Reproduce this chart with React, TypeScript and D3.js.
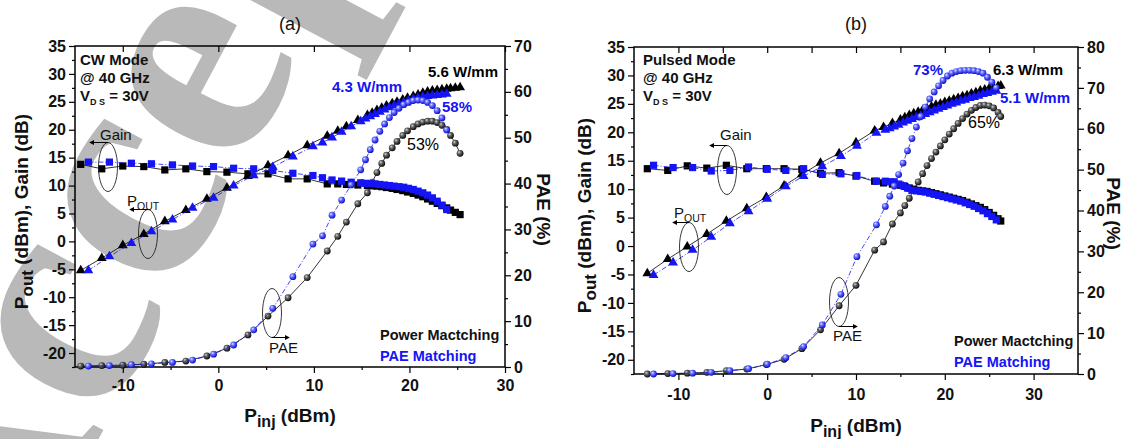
import React, { useEffect, useRef } from 'react';
import * as d3 from 'd3';

const FONT = 'Liberation Sans, Arial, sans-serif';
const BLACK = '#000000';
const BLUE = '#1414f5';

// shared left axis (Pout / Gain) ticks
const poutTicks = [-20, -15, -10, -5, 0, 5, 10, 15, 20, 25, 30, 35];
const poutMinor = [-22.5, -17.5, -12.5, -7.5, -2.5, 2.5, 7.5, 12.5, 17.5, 22.5, 27.5, 32.5];

// (a) CW mode
const xTicksA = [-10, 0, 10, 20, 30];
const xMinorA = [-5, 5, 15, 25];
const paeTicksA = [0, 10, 20, 30, 40, 50, 60, 70];
const paeMinorA = [5, 15, 25, 35, 45, 55, 65];

// (a) power matching (black)
const aPowX = [-14.4, -12.2, -10.0, -7.8, -5.6, -3.4, -1.2, 0.9, 3.1, 5.2, 7.3, 9.3, 11.4, 12.5, 13.4, 14.6, 15.6, 16.1, 16.6, 17.1, 17.6, 18.2, 18.7, 19.3, 19.8, 20.4, 20.9, 21.4, 21.9, 22.4, 22.9, 23.4, 23.9, 24.3, 24.8, 25.3];
const aPowGain = [13.8, 13.0, 13.5, 13.4, 12.8, 13.0, 12.5, 12.4, 12.1, 12.1, 11.2, 11.2, 10.3, 10.3, 10.2, 10.1, 10.0, 9.95, 9.9, 9.8, 9.65, 9.5, 9.3, 9.1, 8.85, 8.6, 8.3, 8.0, 7.6, 7.2, 6.8, 6.4, 6.0, 5.6, 5.2, 4.8];
const aPowPout = [-5.2, -3.0, -0.7, 1.3, 3.6, 5.6, 7.6, 9.6, 11.7, 13.6, 15.4, 17.2, 18.9, 19.8, 20.6, 21.7, 22.6, 23.0, 23.5, 23.9, 24.3, 24.7, 25.0, 25.4, 25.7, 26.0, 26.3, 26.6, 26.8, 27.0, 27.1, 27.2, 27.3, 27.4, 27.5, 27.6];
const aPowPae = [0.2, 0.3, 0.4, 0.6, 1.0, 1.3, 2.4, 4.1, 7.0, 11.1, 15.1, 19.5, 25.3, 28.5, 31.6, 35.6, 38.0, 40.3, 42.4, 44.4, 46.2, 47.8, 49.2, 50.5, 51.5, 52.4, 53.0, 53.4, 53.6, 53.6, 53.3, 52.7, 51.8, 50.5, 48.8, 46.6];

// (a) PAE matching (blue)
const aPaeX = [-13.6, -11.4, -9.1, -7.0, -4.8, -2.7, -0.5, 1.6, 3.7, 5.7, 7.8, 9.9, 10.9, 11.9, 12.9, 13.9, 14.9, 15.4, 15.9, 16.4, 16.9, 17.4, 17.9, 18.4, 18.9, 19.4, 19.9, 20.4, 20.9, 21.4, 21.9, 22.4, 22.9, 23.4, 23.9];
const aPaeGain = [14.2, 14.2, 14.0, 13.9, 13.7, 13.5, 13.4, 13.1, 13.0, 12.7, 12.2, 11.8, 11.4, 11.0, 10.8, 10.6, 10.5, 10.4, 10.35, 10.3, 10.2, 10.1, 10.0, 9.9, 9.8, 9.7, 9.5, 9.3, 9.0, 8.7, 8.3, 7.8, 7.2, 6.5, 5.7];
const aPaePout = [-5.2, -2.7, -0.3, 1.8, 3.9, 6.0, 7.8, 10.0, 11.8, 13.3, 15.2, 17.0, 17.7, 18.6, 19.6, 20.6, 21.5, 22.0, 22.4, 22.8, 23.2, 23.6, 24.0, 24.3, 24.6, 24.9, 25.2, 25.5, 25.7, 25.9, 26.0, 26.1, 26.2, 26.3, 26.4];
const aPaePae = [0.2, 0.3, 0.5, 0.7, 1.0, 1.5, 2.8, 4.8, 8.1, 12.8, 19.7, 26.8, 28.6, 33.1, 36.4, 39.7, 43.0, 45.2, 47.4, 49.5, 51.4, 53.0, 54.4, 55.5, 56.4, 57.2, 57.7, 58.1, 58.2, 58.1, 57.7, 57.0, 55.9, 54.3, 51.7];

// (b) pulsed mode
const xTicksB = [-10, 0, 10, 20, 30];
const xMinorB = [-5, 5, 15, 25];
const paeTicksB = [0, 10, 20, 30, 40, 50, 60, 70, 80];
const paeMinorB = [5, 15, 25, 35, 45, 55, 65, 75];

// (b) power matching (black)
const bPowX = [-13.5, -11.2, -9.0, -6.8, -4.6, -2.3, -0.1, 1.9, 3.9, 6.0, 8.1, 10.0, 12.1, 13.1, 14.1, 15.0, 15.5, 16.0, 16.5, 17.0, 17.5, 18.0, 18.5, 19.0, 19.5, 20.0, 20.5, 21.0, 21.5, 22.0, 22.5, 23.0, 23.5, 24.0, 24.5, 25.0, 25.5, 26.0, 26.3];
const bPowGain = [13.6, 13.3, 14.1, 13.7, 14.2, 13.6, 13.6, 13.6, 13.5, 12.8, 12.9, 12.3, 11.4, 11.1, 10.9, 10.7, 10.5, 10.2, 10.0, 9.8, 9.7, 9.6, 9.4, 9.2, 9.0, 8.8, 8.6, 8.4, 8.2, 8.0, 7.7, 7.4, 7.1, 6.8, 6.4, 5.9, 5.4, 4.8, 4.4];
const bPowPout = [-4.8, -2.3, -0.1, 2.1, 4.4, 6.6, 8.6, 10.6, 12.6, 14.6, 16.3, 18.2, 20.3, 20.9, 21.6, 22.2, 22.6, 23.0, 23.3, 23.6, 23.9, 24.2, 24.5, 24.8, 25.0, 25.3, 25.5, 25.8, 26.0, 26.3, 26.5, 26.8, 27.0, 27.3, 27.5, 27.7, 27.9, 28.1, 28.2];
const bPowPae = [0.0, 0.1, 0.2, 0.4, 0.8, 1.2, 2.3, 3.6, 6.2, 10.8, 16.7, 21.7, 30.3, 32.3, 36.7, 39.4, 41.2, 43.0, 45.0, 47.0, 49.0, 51.0, 52.7, 54.3, 55.8, 57.3, 58.7, 60.0, 61.3, 62.5, 63.6, 64.5, 65.2, 65.7, 65.8, 65.6, 65.1, 64.0, 63.0];

// (b) PAE matching (blue)
const bPaeX = [-12.8, -10.6, -8.4, -6.3, -4.2, -2.1, 0.0, 2.1, 4.1, 6.2, 8.3, 10.1, 12.3, 13.3, 13.8, 14.3, 14.8, 15.3, 15.8, 16.3, 16.8, 17.3, 17.8, 18.3, 18.8, 19.3, 19.8, 20.3, 20.8, 21.3, 21.8, 22.3, 22.8, 23.3, 23.8, 24.3, 24.8, 25.3, 25.8];
const bPaeGain = [14.2, 13.8, 13.8, 13.2, 13.3, 13.9, 13.5, 13.3, 13.6, 12.6, 12.7, 12.4, 11.4, 11.4, 11.3, 11.3, 10.9, 10.6, 10.2, 9.8, 9.7, 9.6, 9.5, 9.3, 9.1, 8.9, 8.7, 8.5, 8.3, 8.1, 7.9, 7.6, 7.3, 7.0, 6.6, 6.2, 5.7, 5.2, 4.6];
const bPaePout = [-5.1, -2.9, -0.7, 1.6, 4.0, 6.1, 8.3, 10.5, 12.3, 14.0, 15.8, 17.6, 19.9, 20.4, 20.7, 21.0, 21.3, 21.7, 22.0, 22.3, 22.6, 22.9, 23.2, 23.5, 23.8, 24.1, 24.4, 24.7, 25.0, 25.2, 25.5, 25.7, 26.0, 26.2, 26.4, 26.7, 26.9, 27.1, 27.3];
const bPaePae = [0.0, 0.1, 0.2, 0.4, 0.8, 1.3, 2.4, 4.0, 6.7, 12.0, 19.5, 28.7, 36.5, 41.0, 43.5, 46.0, 48.8, 51.6, 54.6, 57.6, 60.4, 63.0, 65.3, 67.3, 69.0, 70.5, 71.8, 72.9, 73.6, 74.0, 74.2, 74.3, 74.3, 74.2, 74.0, 73.6, 72.6, 71.4, 70.0];

const panels = [
  {
    title: '(a)', left: 75, right: 505, top: 46, bottom: 367,
    xDomain: [-15, 30], paeMax: 70, xTicks: xTicksA, xMinor: xMinorA, paeTicks: paeTicksA, paeMinor: paeMinorA,
    topMinor: false, xLabelPad: 7, xTitleY: 422, yTitleX: 28, paeTitleX: 537,
    pow: { x: aPowX, gain: aPowGain, pout: aPowPout, pae: aPowPae },
    mat: { x: aPaeX, gain: aPaeGain, pout: aPaePout, pae: aPaePae },
    mode: 'CW Mode', modeX: 80, modeY: 65,
    gainNote: { tx: 100, ty: 140, cx: 108, cy: 167, ax: 90 },
    poutNote: { tx: 127, ty: 206, cx: 148, cy: 234, ax: 130 },
    paeNote: { tx: 269, ty: 353, cx: 272, cy: 313, ax: 289 },
    legendX: 380, legendY: 340,
    labels: [
      { text: '5.6 W/mm', x: 428, y: 77, color: BLACK, anchor: 'start', weight: 'bold', size: 15 },
      { text: '4.3 W/mm', x: 332, y: 92, color: BLUE, anchor: 'start', weight: 'bold', size: 15 },
      { text: '58%', x: 442, y: 112, color: BLUE, anchor: 'start', weight: 'bold', size: 15 },
      { text: '53%', x: 407, y: 150, color: BLACK, anchor: 'start', weight: 'normal', size: 16 },
    ],
  },
  {
    title: '(b)', left: 634, right: 1078, top: 47, bottom: 374,
    xDomain: [-15, 35], paeMax: 80, xTicks: xTicksB, xMinor: xMinorB, paeTicks: paeTicksB, paeMinor: paeMinorB,
    topMinor: true, xLabelPad: 9, xTitleY: 432, yTitleX: 591, paeTitleX: 1107,
    pow: { x: bPowX, gain: bPowGain, pout: bPowPout, pae: bPowPae },
    mat: { x: bPaeX, gain: bPaeGain, pout: bPaePout, pae: bPaePae },
    mode: 'Pulsed Mode', modeX: 643, modeY: 65,
    gainNote: { tx: 720, ty: 140, cx: 727, cy: 170, ax: 710 },
    poutNote: { tx: 674, ty: 218, cx: 689, cy: 247, ax: 673 },
    paeNote: { tx: 833, ty: 341, cx: 839, cy: 302, ax: 857 },
    legendX: 954, legendY: 346,
    labels: [
      { text: '73%', x: 943, y: 75, color: BLUE, anchor: 'end', weight: 'bold', size: 15 },
      { text: '6.3 W/mm', x: 993, y: 75, color: BLACK, anchor: 'start', weight: 'bold', size: 15 },
      { text: '5.1 W/mm', x: 1000, y: 103, color: BLUE, anchor: 'start', weight: 'bold', size: 15 },
      { text: '65%', x: 968, y: 128, color: BLACK, anchor: 'start', weight: 'normal', size: 16 },
    ],
  },
];

// text with optional subscript parts: [text, isSub]
function richText(g, x, y, parts, size, subSize, weight, fill, anchor = 'start') {
  const t = g.append('text')
    .attr('x', x).attr('y', y)
    .attr('font-family', FONT).attr('font-size', size)
    .attr('font-weight', weight).attr('fill', fill)
    .attr('text-anchor', anchor);
  let shifted = false;
  parts.forEach(([s, sub]) => {
    const sp = t.append('tspan').text(s);
    if (sub && !shifted) { sp.attr('dy', size * 0.25).attr('font-size', subSize); shifted = true; }
    else if (sub) sp.attr('font-size', subSize);
    else if (shifted) { sp.attr('dy', -size * 0.25); shifted = false; }
  });
  return t;
}

function drawPanel(svg, p) {
  const x = d3.scaleLinear().domain(p.xDomain).range([p.left, p.right]);
  const y = d3.scaleLinear().domain([-22.5, 35]).range([p.bottom, p.top]);
  const y2 = d3.scaleLinear().domain([0, p.paeMax]).range([p.bottom, p.top]);
  const g = svg.append('g');

  const styleAxis = a => {
    a.select('.domain').remove();
    a.selectAll('line').attr('stroke', '#000').attr('stroke-width', 1.2);
    a.selectAll('text').attr('font-family', FONT).attr('font-size', 16)
      .attr('font-weight', 'bold').attr('fill', '#111');
  };
  const fmt = d => String(d);
  const blank = () => '';

  g.append('g').attr('transform', `translate(${p.left},0)`)
    .call(d3.axisLeft(y).tickValues(poutTicks).tickSize(6).tickPadding(3).tickFormat(fmt)).call(styleAxis);
  g.append('g').attr('transform', `translate(${p.left},0)`)
    .call(d3.axisLeft(y).tickValues(poutMinor).tickSize(3).tickFormat(blank)).call(styleAxis);
  g.append('g').attr('transform', `translate(${p.right},0)`)
    .call(d3.axisRight(y2).tickValues(p.paeTicks).tickSize(6).tickPadding(3).tickFormat(fmt)).call(styleAxis);
  g.append('g').attr('transform', `translate(${p.right},0)`)
    .call(d3.axisRight(y2).tickValues(p.paeMinor).tickSize(3).tickFormat(blank)).call(styleAxis);
  g.append('g').attr('transform', `translate(0,${p.bottom})`)
    .call(d3.axisBottom(x).tickValues(p.xTicks).tickSize(6).tickPadding(p.xLabelPad).tickFormat(fmt)).call(styleAxis);
  g.append('g').attr('transform', `translate(0,${p.bottom})`)
    .call(d3.axisBottom(x).tickValues(p.xMinor).tickSize(3).tickFormat(blank)).call(styleAxis);
  g.append('g').attr('transform', `translate(0,${p.top})`)
    .call(d3.axisBottom(x).tickValues(p.topMinor ? p.xTicks.concat(p.xMinor) : p.xTicks).tickSize(6).tickFormat(blank)).call(styleAxis);

  g.append('rect').attr('x', p.left).attr('y', p.top)
    .attr('width', p.right - p.left).attr('height', p.bottom - p.top)
    .attr('fill', 'none').attr('stroke', '#000').attr('stroke-width', 1.5);

  // series: lines then markers
  const drawSeries = (s, color, dash, ball) => {
    const idx = d3.range(s.x.length);
    const groups = [
      { vals: s.gain, sc: y, kind: 'square' },
      { vals: s.pout, sc: y, kind: 'triangle' },
      { vals: s.pae, sc: y2, kind: 'ball' },
    ];
    groups.forEach(gr => {
      const line = d3.line().x(i => x(s.x[i])).y(i => gr.sc(gr.vals[i]));
      g.append('path').attr('d', line(idx)).attr('fill', 'none')
        .attr('stroke', color).attr('stroke-width', 0.8).attr('stroke-dasharray', dash);
    });
    groups.forEach(gr => {
      const m = g.append('g');
      idx.forEach(i => {
        const cx = x(s.x[i]), cy = gr.sc(gr.vals[i]);
        if (gr.kind === 'square') {
          m.append('rect').attr('x', cx - 3.6).attr('y', cy - 3.6).attr('width', 7.2).attr('height', 7.2).attr('fill', color);
        } else if (gr.kind === 'triangle') {
          m.append('path').attr('d', d3.symbol().type(d3.symbolTriangle).size(42)()).attr('transform', `translate(${cx},${cy})`).attr('fill', color);
        } else {
          m.append('circle').attr('cx', cx).attr('cy', cy).attr('r', 3.4).attr('fill', `url(#${ball})`);
        }
      });
    });
  };
  drawSeries(p.pow, BLACK, null, 'ballBlack');
  drawSeries(p.mat, BLUE, '5,2,1,2', 'ballBlue');

  // annotations: ellipses with arrows
  const note = (n, label, sub, arrowAt) => {
    g.append('ellipse').attr('cx', n.cx).attr('cy', n.cy).attr('rx', 9.5).attr('ry', 24.5)
      .attr('fill', 'none').attr('stroke', '#222').attr('stroke-width', 0.9);
    const ay = arrowAt === 'top' ? n.cy - 24.5 : n.cy + 24.5;
    g.append('line').attr('x1', n.cx).attr('y1', ay).attr('x2', n.ax).attr('y2', ay)
      .attr('stroke', '#000').attr('stroke-width', 1).attr('marker-end', 'url(#arrowHead)');
    const parts = sub ? [[label, false], [sub, true]] : [[label, false]];
    richText(g, n.tx, n.ty, parts, 15, 10.5, 'normal', '#111');
  };
  note(p.gainNote, 'Gain', null, 'top');
  note(p.poutNote, 'P', 'OUT', 'top');
  note(p.paeNote, 'PAE', null, 'bottom');

  // mode block
  richText(g, p.modeX, p.modeY, [[p.mode, false]], 15, 10, 'bold', '#111');
  richText(g, p.modeX, p.modeY + 18, [['@ 40 GHz', false]], 15, 10, 'bold', '#111');
  richText(g, p.modeX, p.modeY + 36, [['V', false], ['D S', true], [' = 30V', false]], 15, 9, 'bold', '#111');

  // legend
  richText(g, p.legendX, p.legendY, [['Power Mactching', false]], 14.5, 10, 'bold', '#111');
  richText(g, p.legendX, p.legendY + 21, [['PAE Matching', false]], 14.5, 10, 'bold', BLUE);

  p.labels.forEach(l => {
    richText(g, l.x, l.y, [[l.text, false]], l.size, 10, l.weight, l.color, l.anchor);
  });

  // titles
  const xMid = (p.left + p.right) / 2;
  richText(g, xMid, 30, [[p.title, false]], 18, 12, 'normal', '#111', 'middle');
  richText(g, xMid, p.xTitleY, [['P', false], ['inj', true], [' (dBm)', false]], 19, 16, 'bold', '#111', 'middle');
  const yMid = (p.top + p.bottom) / 2;
  richText(g, 0, 0, [['P', false], ['out', true], [' (dBm), Gain (dB)', false]], 19, 17, 'bold', '#111', 'middle')
    .attr('transform', `translate(${p.yTitleX},${yMid + 5}) rotate(-90)`);
  richText(g, 0, 0, [['PAE (%)', false]], 19, 14, 'bold', '#111', 'middle')
    .attr('transform', `translate(${p.paeTitleX},${yMid + 3}) rotate(90)`);
}

export default function App() {
  const ref = useRef(null);
  useEffect(() => {
    const svg = d3.select(ref.current);
    svg.selectAll('*').remove();
    const defs = svg.append('defs');
    const ball = (id, stops) => {
      const rg = defs.append('radialGradient').attr('id', id)
        .attr('cx', '40%').attr('cy', '40%').attr('r', '65%').attr('fx', '35%').attr('fy', '32%');
      stops.forEach(([o, c]) => rg.append('stop').attr('offset', o).attr('stop-color', c));
    };
    ball('ballBlack', [['0%', '#d8d8d8'], ['35%', '#6a6a6a'], ['100%', '#000']]);
    ball('ballBlue', [['0%', '#e4e8ff'], ['35%', '#6b74ff'], ['100%', '#0000c8']]);
    defs.append('marker').attr('id', 'arrowHead').attr('viewBox', '0 0 6 6')
      .attr('refX', 5).attr('refY', 3).attr('markerWidth', 5).attr('markerHeight', 5)
      .attr('orient', 'auto').append('path').attr('d', 'M0,0 L6,3 L0,6 z').attr('fill', '#000');

    svg.append('rect').attr('width', 1133).attr('height', 439).attr('fill', '#fff');
    // "Accepted" watermark
    svg.append('text').attr('transform', 'translate(-4,632) rotate(-62)')
      .attr('font-family', 'Liberation Serif, serif').attr('font-size', 320).attr('font-weight', 'bold')
      .attr('fill', '#b9b9b9').text('Accepted');

    panels.forEach(p => drawPanel(svg, p));
  }, []);
  return (
    <svg ref={ref} width={1133} height={439}
      style={{ position: 'absolute', left: 0, top: 0, display: 'block' }} />
  );
}
